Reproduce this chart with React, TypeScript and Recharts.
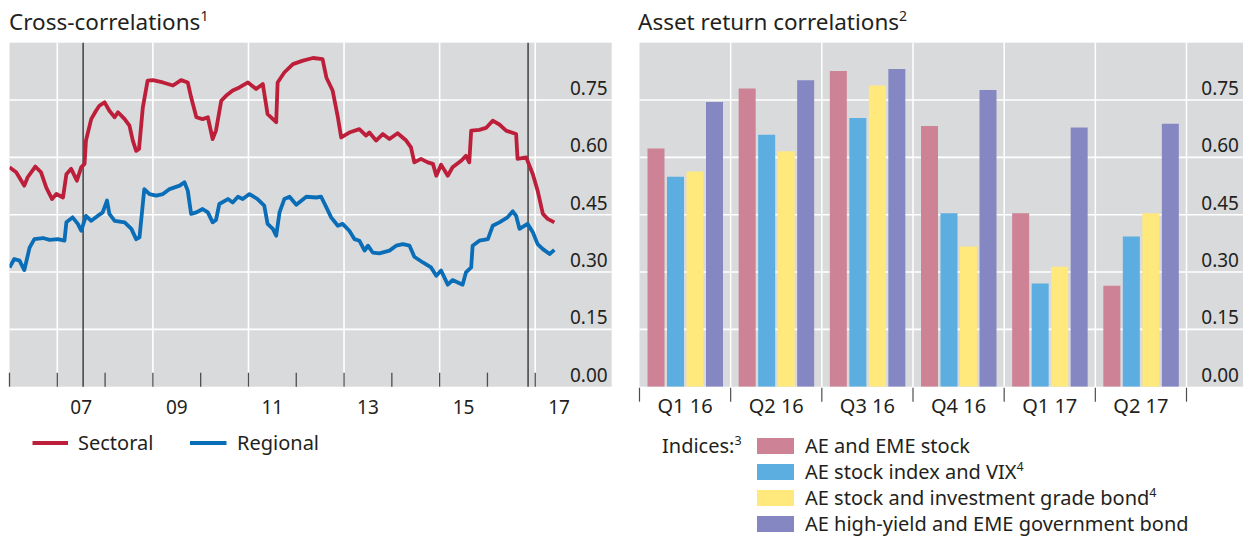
import { LineChart, Line, BarChart, Bar, XAxis, YAxis, CartesianGrid, ReferenceLine } from "recharts";

const FONT = "'Noto Sans', sans-serif";
const TEXT = "#231f20";
const GRID_BG = "#d9dadc";

// Cross-correlations, decimal years
const sectoralDates = [
  2006.0, 2006.14, 2006.31, 2006.38, 2006.54, 2006.66, 2006.77, 2006.89, 2006.98, 2007.12,
  2007.19, 2007.29, 2007.41, 2007.5, 2007.57, 2007.6, 2007.71, 2007.81, 2007.88, 2007.99,
  2008.09, 2008.2, 2008.27, 2008.41, 2008.51, 2008.58, 2008.65, 2008.71, 2008.79, 2008.89,
  2009.0, 2009.21, 2009.42, 2009.59, 2009.73, 2009.8, 2009.91, 2010.04, 2010.15, 2010.25,
  2010.32, 2010.43, 2010.53, 2010.67, 2010.81, 2010.99, 2011.16, 2011.3, 2011.4, 2011.58,
  2011.61, 2011.75, 2011.93, 2012.14, 2012.35, 2012.55, 2012.63, 2012.76, 2012.87, 2012.94,
  2013.11, 2013.32, 2013.46, 2013.53, 2013.67, 2013.81, 2013.95, 2014.12, 2014.3, 2014.4,
  2014.47, 2014.61, 2014.75, 2014.86, 2014.93, 2015.03, 2015.17, 2015.27, 2015.45, 2015.55,
  2015.62, 2015.66, 2015.83, 2015.97, 2016.11, 2016.25, 2016.39, 2016.6, 2016.63, 2016.81,
  2016.95, 2017.05, 2017.16, 2017.26, 2017.4,
];
const sectoralValues = [
  0.574, 0.561, 0.526, 0.548, 0.576, 0.561, 0.521, 0.491, 0.504, 0.495,
  0.556, 0.57, 0.539, 0.574, 0.583, 0.644, 0.7, 0.722, 0.735, 0.744,
  0.722, 0.705, 0.718, 0.7, 0.683, 0.644, 0.617, 0.622, 0.731, 0.801,
  0.802, 0.796, 0.788, 0.802, 0.796, 0.757, 0.705, 0.7, 0.705, 0.648,
  0.67, 0.748, 0.761, 0.775, 0.783, 0.796, 0.779, 0.792, 0.713, 0.692,
  0.796, 0.822, 0.844, 0.853, 0.86, 0.857, 0.809, 0.775, 0.705, 0.652,
  0.665, 0.674, 0.657, 0.665, 0.644, 0.661, 0.648, 0.663, 0.644, 0.626,
  0.587, 0.596, 0.587, 0.583, 0.552, 0.581, 0.552, 0.574, 0.591, 0.604,
  0.587, 0.67, 0.672, 0.677, 0.696, 0.686, 0.67, 0.661, 0.596, 0.6,
  0.556, 0.513, 0.452, 0.439, 0.43,
];
const regionalDates = [
  2006.0, 2006.1, 2006.21, 2006.31, 2006.42, 2006.52, 2006.7, 2006.84, 2007.01, 2007.15,
  2007.19, 2007.32, 2007.43, 2007.5, 2007.6, 2007.71, 2007.85, 2007.95, 2008.04, 2008.09,
  2008.2, 2008.41, 2008.55, 2008.65, 2008.72, 2008.82, 2008.93, 2009.07, 2009.21, 2009.35,
  2009.56, 2009.66, 2009.73, 2009.8, 2009.91, 2010.04, 2010.15, 2010.25, 2010.32, 2010.39,
  2010.57, 2010.67, 2010.78, 2010.88, 2011.02, 2011.19, 2011.33, 2011.4, 2011.51, 2011.58,
  2011.65, 2011.75, 2011.86, 2012.0, 2012.21, 2012.42, 2012.52, 2012.63, 2012.73, 2012.87,
  2012.97, 2013.11, 2013.22, 2013.32, 2013.43, 2013.5, 2013.6, 2013.74, 2013.95, 2014.09,
  2014.23, 2014.37, 2014.47, 2014.65, 2014.82, 2014.93, 2015.03, 2015.17, 2015.27, 2015.48,
  2015.55, 2015.66, 2015.69, 2015.83, 2016.01, 2016.11, 2016.25, 2016.42, 2016.53, 2016.6,
  2016.67, 2016.84, 2016.95, 2017.05, 2017.16, 2017.3, 2017.4,
];
const regionalValues = [
  0.312, 0.334, 0.33, 0.305, 0.364, 0.386, 0.389, 0.384, 0.386, 0.382,
  0.43, 0.443, 0.426, 0.408, 0.447, 0.434, 0.447, 0.456, 0.487, 0.452,
  0.434, 0.43, 0.413, 0.386, 0.391, 0.517, 0.504, 0.5, 0.504, 0.517,
  0.526, 0.535, 0.513, 0.452, 0.456, 0.465, 0.456, 0.43, 0.436, 0.478,
  0.491, 0.482, 0.497, 0.491, 0.504, 0.491, 0.474, 0.426, 0.413, 0.395,
  0.456, 0.491, 0.497, 0.476, 0.497, 0.495, 0.497, 0.469, 0.443, 0.421,
  0.426, 0.408, 0.386, 0.382, 0.356, 0.369, 0.351, 0.349, 0.356, 0.369,
  0.373, 0.369, 0.34, 0.325, 0.312, 0.29, 0.304, 0.267, 0.279, 0.267,
  0.299, 0.312, 0.369, 0.382, 0.386, 0.421, 0.43, 0.443, 0.459, 0.447,
  0.413, 0.426, 0.404, 0.373, 0.36, 0.347, 0.358,
];
const yearTicks = [2006, 2007, 2008, 2009, 2010, 2011, 2012, 2013, 2014, 2015, 2016, 2017];
const gridYears = [2007, 2009, 2011, 2013, 2015, 2017];
const eventDates = [2007.54, 2016.85];
const valueTicks = [0, 0.15, 0.3, 0.45, 0.6, 0.75];
const gridValues = [0.15, 0.3, 0.45, 0.6, 0.75];

// Asset return correlations
const quarters = ["Q1 16", "Q2 16", "Q3 16", "Q4 16", "Q1 17", "Q2 17"];
const aeEmeStock = [0.623, 0.78, 0.826, 0.682, 0.454, 0.264];
const aeStockVix = [0.549, 0.659, 0.703, 0.454, 0.27, 0.393];
const aeStockIgBond = [0.563, 0.616, 0.788, 0.367, 0.314, 0.454];
const aeHyEmeGovBond = [0.745, 0.802, 0.831, 0.776, 0.678, 0.688];

const sectoralData = sectoralDates.map((t, i) => ({ t, v: sectoralValues[i] }));
const regionalData = regionalDates.map((t, i) => ({ t, v: regionalValues[i] }));
const barData = quarters.map((q, i) => ({
  q,
  a: aeEmeStock[i],
  b: aeStockVix[i],
  c: aeStockIgBond[i],
  d: aeHyEmeGovBond[i],
}));

const PLOT_TOP = 42.7;
const PLOT_BOTTOM = 386.7;
const CHART_H = 430;
const X_DOMAIN: [number, number] = [2006, 2018.6];
const LEFT_PLOT_W = 611.7 - 9.5;
const HALF_YEAR = LEFT_PLOT_W / (X_DOMAIN[1] - X_DOMAIN[0]) / 2;

const ValueTick = ({ x, y, payload }: any) => (
  <text x={x - 4} y={y - 5} textAnchor="end" fontSize={19} fontFamily={FONT} fill={TEXT}>
    {Number(payload.value).toFixed(2)}
  </text>
);

const YearTick = ({ x, y, payload }: any) => {
  const yr = payload.value as number;
  return (
    <g>
      <line x1={x} x2={x} y1={y} y2={y - 14} stroke="#4d4d4d" strokeWidth={1.3} />
      {yr % 2 === 1 && (
        <text x={x + HALF_YEAR} y={y + 27} textAnchor="middle" fontSize={19} fontFamily={FONT} fill={TEXT}>
          {String(yr % 100).padStart(2, "0")}
        </text>
      )}
    </g>
  );
};

const QuarterTick = ({ x, y, payload, index }: any) => {
  const half = payload.offset || 45.9;
  const last = index === quarters.length - 1;
  return (
    <g>
      <line x1={x + half} x2={x + half} y1={PLOT_TOP} y2={PLOT_BOTTOM} stroke="#fff" strokeWidth={1.5} />
      <line x1={x - half} x2={x - half} y1={y + 1} y2={y + 15} stroke="#4d4d4d" strokeWidth={1.2} />
      {last && <line x1={x + half} x2={x + half} y1={y + 1} y2={y + 15} stroke="#4d4d4d" strokeWidth={1.2} />}
      <text x={x} y={y + 26} textAnchor="middle" fontSize={20} fontFamily={FONT} fill={TEXT}>
        {payload.value}
      </text>
    </g>
  );
};

const barSeries = [
  { key: "a", color: "#cd8296", label: "AE and EME stock", sup: "" },
  { key: "b", color: "#5daee0", label: "AE stock index and VIX", sup: "4" },
  { key: "c", color: "#ffe87c", label: "AE stock and investment grade bond", sup: "4" },
  { key: "d", color: "#8587c2", label: "AE high-yield and EME government bond", sup: "" },
];

const valueAxis = (
  <YAxis
    orientation="right"
    mirror
    width={40}
    domain={[0, 0.9]}
    ticks={valueTicks}
    interval={0}
    axisLine={false}
    tickLine={false}
    tickSize={0}
    tickMargin={0}
    tick={<ValueTick />}
    allowDataOverflow
  />
);

export default function App() {
  return (
    <div style={{ position: "absolute", left: 0, top: 0, width: 1250, height: 538, background: "#fff", fontFamily: FONT }}>
      <div style={{ position: "absolute", left: 0, top: 0 }}>
        <LineChart width={620} height={CHART_H} margin={{ top: PLOT_TOP, right: 8.3, bottom: 0, left: 9.5 }}>
          <CartesianGrid
            fill={GRID_BG}
            fillOpacity={1}
            stroke="#fff"
            strokeWidth={1.6}
            horizontalValues={gridValues}
            verticalValues={gridYears}
          />
          <XAxis
            dataKey="t"
            type="number"
            domain={X_DOMAIN}
            ticks={yearTicks}
            interval={0}
            height={CHART_H - PLOT_BOTTOM}
            axisLine={false}
            tickLine={false}
            tickSize={0}
            tickMargin={0}
            tick={<YearTick />}
            allowDataOverflow
          />
          {valueAxis}
          {eventDates.map((d) => (
            <ReferenceLine key={d} x={d} stroke="#1a1a1a" strokeWidth={1.2} />
          ))}
          <Line data={sectoralData} dataKey="v" stroke="#bd1e3a" strokeWidth={3.8} dot={false} isAnimationActive={false} strokeLinejoin="round" />
          <Line data={regionalData} dataKey="v" stroke="#0a6db7" strokeWidth={3.8} dot={false} isAnimationActive={false} strokeLinejoin="round" />
        </LineChart>
      </div>

      <div style={{ position: "absolute", left: 630, top: 0 }}>
        <BarChart
          width={620}
          height={CHART_H}
          data={barData}
          margin={{ top: PLOT_TOP, right: 7, bottom: 0, left: 9.5 }}
          barCategoryGap={8}
          barGap={2.5}
        >
          <CartesianGrid fill={GRID_BG} fillOpacity={1} stroke="#fff" strokeWidth={1.6} vertical={false} horizontalValues={gridValues} />
          <XAxis
            dataKey="q"
            padding={{ left: 0, right: 56.5 }}
            height={CHART_H - PLOT_BOTTOM}
            interval={0}
            axisLine={false}
            tickLine={false}
            tickSize={0}
            tickMargin={0}
            tick={<QuarterTick />}
          />
          {valueAxis}
          {barSeries.map((s) => (
            <Bar key={s.key} dataKey={s.key} fill={s.color} isAnimationActive={false} />
          ))}
        </BarChart>
      </div>

      <svg width={1250} height={538} style={{ position: "absolute", left: 0, top: 0, pointerEvents: "none" }} fontFamily={FONT}>
        <text x={9} y={30} fontSize={22.5} fill={TEXT}>
          Cross-correlations<tspan dy={-9} fontSize={14}>1</tspan>
        </text>
        <text x={638} y={30} fontSize={22.5} fill={TEXT}>
          Asset return correlations<tspan dy={-9} fontSize={14}>2</tspan>
        </text>

        <line x1={32.5} x2={68} y1={443} y2={443} stroke="#bd1e3a" strokeWidth={4} />
        <text x={78} y={450} fontSize={20} fill={TEXT}>Sectoral</text>
        <line x1={190} x2={226.5} y1={443} y2={443} stroke="#0a6db7" strokeWidth={4} />
        <text x={237} y={450} fontSize={20} fill={TEXT}>Regional</text>

        <text x={662} y={453} fontSize={20} fill={TEXT}>
          Indices:<tspan dy={-8} fontSize={12.5}>3</tspan>
        </text>
        {barSeries.map((s, i) => (
          <g key={s.key}>
            <rect x={757} y={438 + i * 26} width={37} height={16} fill={s.color} />
            <text x={805} y={453 + i * 26} fontSize={20} fill={TEXT}>
              {s.label}
              {s.sup && <tspan dy={-8} fontSize={12.5}>{s.sup}</tspan>}
            </text>
          </g>
        ))}
      </svg>
    </div>
  );
}
